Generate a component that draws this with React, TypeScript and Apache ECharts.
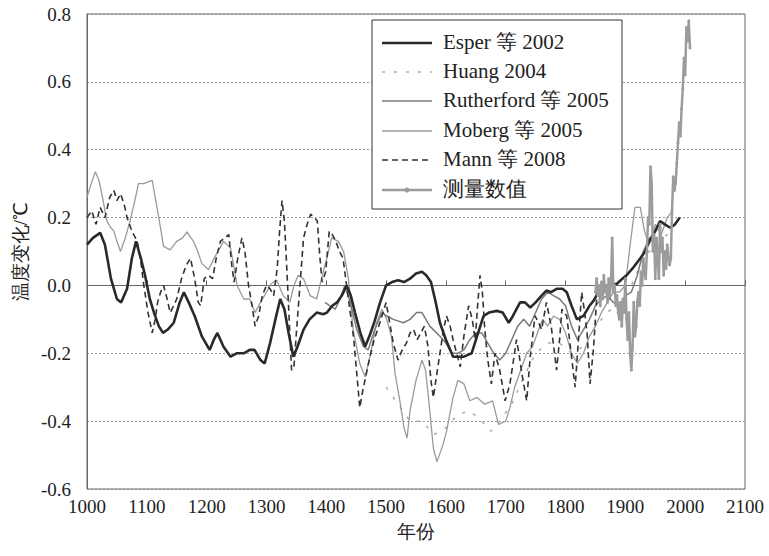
import React, { useEffect, useRef } from "react";
import * as echarts from "echarts";

// Temperature change reconstructions (year, °C)
const esper2002: number[][] = [
  [1000, 0.12], [1010, 0.14], [1022, 0.155], [1030, 0.12], [1040, 0.02], [1050, -0.04], [1057, -0.05],
  [1067, -0.01], [1075, 0.08], [1082, 0.13], [1090, 0.08], [1097, 0.03], [1105, -0.04], [1112, -0.08],
  [1120, -0.12], [1127, -0.14], [1135, -0.13], [1145, -0.11], [1155, -0.05], [1162, -0.02], [1170, -0.05],
  [1180, -0.09], [1192, -0.15], [1205, -0.19], [1212, -0.16], [1218, -0.14], [1228, -0.18], [1240, -0.21],
  [1250, -0.2], [1262, -0.2], [1272, -0.19], [1280, -0.19], [1290, -0.22], [1297, -0.23], [1306, -0.17],
  [1315, -0.1], [1323, -0.04], [1330, -0.07], [1337, -0.14], [1345, -0.21], [1352, -0.18], [1362, -0.13],
  [1372, -0.1], [1384, -0.08], [1395, -0.085], [1401, -0.08], [1410, -0.06], [1418, -0.05], [1426, -0.03],
  [1434, 0.0], [1441, -0.03], [1448, -0.08], [1457, -0.14], [1465, -0.18], [1472, -0.15], [1480, -0.11],
  [1490, -0.05], [1500, 0.0], [1510, 0.01], [1520, 0.015], [1530, 0.01], [1540, 0.02], [1550, 0.035],
  [1560, 0.04], [1567, 0.03], [1575, 0.01], [1583, -0.05], [1590, -0.11], [1600, -0.16], [1612, -0.21],
  [1620, -0.21], [1630, -0.21], [1643, -0.2], [1652, -0.15], [1663, -0.09], [1672, -0.08], [1685, -0.075],
  [1695, -0.08], [1705, -0.11], [1712, -0.09], [1724, -0.05], [1732, -0.05], [1741, -0.065], [1750, -0.05],
  [1760, -0.03], [1768, -0.015], [1776, -0.02], [1785, -0.01], [1795, -0.01], [1802, -0.02], [1810, -0.06],
  [1819, -0.1], [1830, -0.09], [1840, -0.06], [1847, -0.045], [1855, -0.02], [1861, 0.0], [1872, 0.0],
  [1886, 0.005], [1895, 0.02], [1902, 0.03], [1912, 0.05], [1925, 0.08], [1933, 0.1], [1941, 0.135],
  [1950, 0.16], [1958, 0.19], [1966, 0.18], [1975, 0.17], [1983, 0.18], [1991, 0.2],
];

const huang2004: number[][] = [
  [1500, -0.3], [1520, -0.35], [1540, -0.4], [1560, -0.4], [1580, -0.44], [1600, -0.42], [1620, -0.38],
  [1640, -0.37], [1660, -0.4], [1675, -0.43], [1690, -0.4], [1710, -0.35], [1730, -0.27], [1750, -0.2],
  [1770, -0.17], [1790, -0.17], [1810, -0.2], [1830, -0.18], [1850, -0.12], [1870, -0.08], [1890, -0.05],
  [1910, 0.0], [1930, 0.08], [1950, 0.12], [1970, 0.15], [1990, 0.2],
];

const rutherford2005: number[][] = [
  [1398, -0.05], [1406, -0.06], [1415, -0.07], [1423, -0.04], [1431, 0.0], [1440, -0.05], [1451, -0.13],
  [1462, -0.18], [1470, -0.19], [1481, -0.13], [1493, -0.08], [1501, -0.09], [1512, -0.1], [1529, -0.11],
  [1540, -0.1], [1551, -0.08], [1560, -0.08], [1573, -0.12], [1590, -0.15], [1600, -0.17], [1610, -0.2],
  [1620, -0.2], [1630, -0.19], [1640, -0.16], [1650, -0.14], [1660, -0.14], [1670, -0.17], [1680, -0.2],
  [1690, -0.22], [1700, -0.2], [1710, -0.16], [1720, -0.12], [1730, -0.1], [1740, -0.12], [1750, -0.08],
  [1760, -0.04], [1770, -0.02], [1780, -0.03], [1790, -0.04], [1800, -0.06], [1810, -0.12], [1820, -0.16],
  [1830, -0.13], [1840, -0.1], [1850, -0.06], [1860, -0.04], [1870, -0.03], [1880, -0.05], [1890, -0.06],
  [1900, -0.03], [1910, -0.02], [1920, 0.03], [1930, 0.1], [1940, 0.14], [1950, 0.12], [1960, 0.1],
];

const moberg2005: number[][] = [
  [1000, 0.26], [1007, 0.3], [1014, 0.335], [1020, 0.31], [1027, 0.25], [1033, 0.19], [1040, 0.17],
  [1045, 0.16], [1050, 0.13], [1056, 0.1], [1064, 0.14], [1072, 0.19], [1080, 0.25], [1086, 0.3],
  [1095, 0.3], [1102, 0.305], [1109, 0.31], [1115, 0.25], [1120, 0.2], [1128, 0.115], [1139, 0.105],
  [1150, 0.13], [1160, 0.14], [1167, 0.158], [1178, 0.13], [1185, 0.1], [1192, 0.065], [1203, 0.046],
  [1214, 0.085], [1222, 0.11], [1228, 0.13], [1240, 0.11], [1251, 0.0], [1262, -0.04], [1272, -0.04],
  [1281, -0.08], [1290, -0.05], [1300, -0.02], [1308, 0.005], [1317, 0.016], [1328, -0.03], [1339, -0.05],
  [1346, 0.0], [1353, 0.03], [1362, 0.02], [1373, -0.03], [1384, -0.04], [1392, 0.02], [1401, 0.08],
  [1409, 0.14], [1420, 0.13], [1429, 0.1], [1437, 0.02], [1445, -0.13], [1456, -0.23], [1465, -0.27],
  [1473, -0.21], [1484, -0.11], [1493, -0.07], [1501, -0.1], [1509, -0.15], [1515, -0.26], [1523, -0.34],
  [1530, -0.42], [1535, -0.45], [1540, -0.37], [1550, -0.28], [1560, -0.22], [1566, -0.25], [1572, -0.35],
  [1579, -0.48], [1585, -0.52], [1595, -0.47], [1601, -0.43], [1612, -0.33], [1620, -0.28], [1630, -0.29],
  [1640, -0.34], [1652, -0.33], [1665, -0.35], [1678, -0.34], [1688, -0.41], [1700, -0.4], [1707, -0.36],
  [1715, -0.3], [1725, -0.25], [1735, -0.2], [1745, -0.18], [1755, -0.13], [1762, -0.1], [1770, -0.12],
  [1780, -0.09], [1790, -0.1], [1800, -0.14], [1810, -0.2], [1820, -0.23], [1830, -0.2], [1840, -0.15],
  [1850, -0.12], [1860, -0.08], [1870, -0.05], [1880, -0.02], [1890, -0.02], [1900, 0.0], [1908, 0.12],
  [1916, 0.23], [1925, 0.23], [1932, 0.16], [1940, 0.12], [1950, 0.18], [1960, 0.15], [1970, 0.2],
  [1979, 0.22],
];

const mann2008: number[][] = [
  [1000, 0.2], [1008, 0.22], [1015, 0.18], [1022, 0.23], [1030, 0.2], [1038, 0.26], [1045, 0.28],
  [1050, 0.25], [1056, 0.27], [1062, 0.24], [1067, 0.2], [1075, 0.16], [1084, 0.13], [1090, 0.07],
  [1095, 0.0], [1102, -0.08], [1109, -0.14], [1114, -0.1], [1118, -0.05], [1123, -0.02], [1128, 0.0],
  [1134, -0.04], [1139, -0.08], [1145, -0.06], [1150, -0.04], [1158, 0.02], [1166, 0.06], [1173, 0.08],
  [1180, 0.02], [1186, -0.05], [1190, -0.06], [1196, 0.02], [1203, 0.03], [1210, 0.02], [1216, 0.08],
  [1223, 0.13], [1230, 0.14], [1237, 0.15], [1242, 0.06], [1246, 0.01], [1252, 0.08], [1259, 0.14],
  [1264, 0.1], [1270, 0.0], [1276, -0.06], [1281, -0.12], [1287, -0.09], [1293, -0.03], [1300, 0.0],
  [1306, -0.01], [1312, -0.03], [1318, 0.05], [1322, 0.16], [1326, 0.25], [1330, 0.19], [1334, 0.05],
  [1338, -0.1], [1342, -0.25], [1346, -0.24], [1350, -0.14], [1356, 0.0], [1362, 0.14], [1368, 0.18],
  [1374, 0.21], [1380, 0.2], [1385, 0.19], [1389, 0.09], [1393, 0.01], [1399, 0.04], [1405, 0.16],
  [1410, 0.15], [1416, 0.13], [1422, 0.1], [1428, 0.08], [1434, 0.0], [1440, -0.08], [1446, -0.16],
  [1451, -0.26], [1456, -0.36], [1461, -0.31], [1467, -0.26], [1473, -0.21], [1480, -0.16], [1486, -0.13],
  [1493, -0.09], [1500, -0.05], [1506, -0.11], [1512, -0.17], [1520, -0.22], [1527, -0.19], [1534, -0.17],
  [1540, -0.14], [1546, -0.13], [1552, -0.16], [1558, -0.14], [1564, -0.12], [1570, -0.18], [1575, -0.28],
  [1579, -0.33], [1584, -0.27], [1590, -0.2], [1596, -0.13], [1601, -0.09], [1607, -0.12], [1612, -0.16],
  [1618, -0.2], [1624, -0.24], [1630, -0.15], [1638, -0.06], [1644, -0.1], [1649, -0.16], [1653, -0.06],
  [1657, 0.03], [1661, -0.02], [1665, -0.13], [1670, -0.22], [1676, -0.29], [1682, -0.2], [1690, -0.25],
  [1699, -0.34], [1707, -0.29], [1713, -0.22], [1718, -0.16], [1722, -0.2], [1727, -0.26], [1735, -0.34],
  [1741, -0.21], [1749, -0.09], [1755, -0.11], [1760, -0.13], [1768, -0.05], [1776, -0.12], [1785, -0.25],
  [1790, -0.16], [1794, -0.07], [1802, -0.09], [1810, -0.21], [1816, -0.3], [1820, -0.2], [1827, -0.02],
  [1832, -0.08], [1836, -0.14], [1841, -0.29], [1847, -0.18], [1852, -0.04],
];

const measured: number[][] = [
  [1850, -0.02], [1852, 0.02], [1854, -0.03], [1856, 0.0], [1858, -0.06], [1860, 0.01], [1862, -0.04],
  [1864, 0.03], [1866, -0.02], [1868, 0.0], [1870, -0.05], [1872, 0.02], [1874, -0.03], [1876, 0.01],
  [1878, 0.14], [1880, -0.02], [1882, 0.0], [1884, -0.06], [1886, -0.03], [1888, -0.08], [1890, -0.1],
  [1892, -0.05], [1894, -0.12], [1896, -0.04], [1898, -0.08], [1900, 0.02], [1902, -0.1], [1904, -0.16],
  [1906, -0.08], [1908, -0.2], [1910, -0.25], [1912, -0.18], [1914, -0.05], [1916, -0.15], [1918, -0.12],
  [1920, -0.05], [1922, -0.02], [1924, -0.06], [1926, 0.04], [1928, 0.0], [1930, 0.08], [1932, 0.04],
  [1934, 0.02], [1936, 0.1], [1938, 0.2], [1940, 0.18], [1942, 0.35], [1944, 0.3], [1946, 0.1],
  [1948, 0.15], [1950, 0.02], [1952, 0.14], [1954, 0.08], [1956, 0.02], [1958, 0.18], [1960, 0.1],
  [1962, 0.14], [1964, 0.03], [1966, 0.1], [1968, 0.05], [1970, 0.12], [1972, 0.08], [1974, 0.06],
  [1976, 0.08], [1978, 0.22], [1980, 0.32], [1982, 0.28], [1984, 0.3], [1986, 0.36], [1988, 0.42],
  [1990, 0.48], [1992, 0.44], [1994, 0.52], [1996, 0.58], [1998, 0.67], [2000, 0.62], [2002, 0.76],
  [2004, 0.72], [2006, 0.78], [2008, 0.7],
];

const seriesNames = ["Esper 等 2002", "Huang 2004", "Rutherford 等 2005", "Moberg 等 2005", "Mann 等 2008", "测量数值"];

const FONT = "Liberation Serif";

type Sty = { color: string; width: number; dash: number[] | null; marker?: boolean };
const styles: Sty[] = [
  { color: "#2a2a2a", width: 2.6, dash: null },
  { color: "#aaaaaa", width: 1.5, dash: [3, 9] },
  { color: "#7a7a7a", width: 1.5, dash: null },
  { color: "#9a9a9a", width: 1.3, dash: null },
  { color: "#333333", width: 1.6, dash: [6, 4] },
  { color: "#9c9c9c", width: 2.5, dash: null, marker: true },
];

export default function App() {
  const ref = useRef<HTMLDivElement>(null);
  useEffect(() => {
    document.body.style.margin = "0";
    const chart = echarts.init(ref.current!, undefined, { renderer: "svg" });
    const line = (i: number, data: number[][], z: number) => ({
      name: seriesNames[i],
      type: "line",
      data,
      symbol: "none",
      z,
      lineStyle: { color: styles[i].color, width: styles[i].width, type: styles[i].dash ?? "solid" },
      itemStyle: { color: styles[i].color },
    });

    // legend drawn with graphic elements
    const legendEls: any[] = [
      {
        type: "rect",
        shape: { x: 372, y: 20, width: 250, height: 189 },
        style: { fill: "#fff", stroke: "#333", lineWidth: 1 },
        z: 100,
      },
    ];
    const rowY = [43, 72, 101, 131, 160, 190];
    seriesNames.forEach((n, i) => {
      const s = styles[i];
      legendEls.push({
        type: "line",
        shape: { x1: 382, y1: rowY[i], x2: 432, y2: rowY[i] },
        style: { stroke: s.color, lineWidth: s.width, lineDash: s.dash ?? undefined },
        z: 101,
      });
      if (s.marker) {
        legendEls.push({
          type: "circle",
          shape: { cx: 407, cy: rowY[i], r: 2.5 },
          style: { fill: s.color },
          z: 102,
        });
      }
      legendEls.push({
        type: "text",
        x: 443,
        y: rowY[i] - 12,
        z: 101,
        style: { text: n, fontSize: 21, fontFamily: FONT, fill: "#222" },
      });
    });

    chart.setOption({
      animation: false,
      grid: { left: 87, right: 24, top: 14, bottom: 67, show: true, borderColor: "#666", borderWidth: 1 },
      xAxis: {
        type: "value",
        min: 1000,
        max: 2100,
        interval: 100,
        name: "年份",
        nameLocation: "middle",
        nameGap: 33,
        nameTextStyle: { fontSize: 19, color: "#222", fontFamily: FONT },
        axisLine: { show: true, lineStyle: { color: "#666" } },
        axisTick: { show: true, inside: true, length: 5, lineStyle: { color: "#666" } },
        axisLabel: { fontSize: 19, color: "#222", margin: 8, fontFamily: FONT, formatter: (v: number) => String(v) },
        splitLine: { show: false },
      },
      yAxis: {
        type: "value",
        min: -0.6,
        max: 0.8,
        interval: 0.2,
        name: "温度变化/℃",
        nameLocation: "middle",
        nameGap: 37,
        nameTextStyle: { fontSize: 19, color: "#222", fontFamily: FONT },
        axisLine: { show: true, lineStyle: { color: "#666" } },
        axisTick: { show: false },
        axisLabel: {
          fontSize: 19,
          color: "#222",
          margin: 16,
          fontFamily: FONT,
          formatter: (v: number) => v.toFixed(1),
        },
        splitLine: { show: true, lineStyle: { color: "#999", type: [2, 2], width: 1 } },
      },
      graphic: legendEls,
      series: [
        line(1, huang2004, 2),
        line(3, moberg2005, 3),
        line(2, rutherford2005, 4),
        line(4, mann2008, 5),
        line(0, esper2002, 6),
        {
          name: seriesNames[5],
          type: "line",
          data: measured,
          symbol: "circle",
          symbolSize: 3,
          z: 7,
          lineStyle: { color: styles[5].color, width: styles[5].width },
          itemStyle: { color: styles[5].color },
        },
      ],
    });
    return () => chart.dispose();
  }, []);
  return <div ref={ref} style={{ width: 769, height: 556 }} />;
}
